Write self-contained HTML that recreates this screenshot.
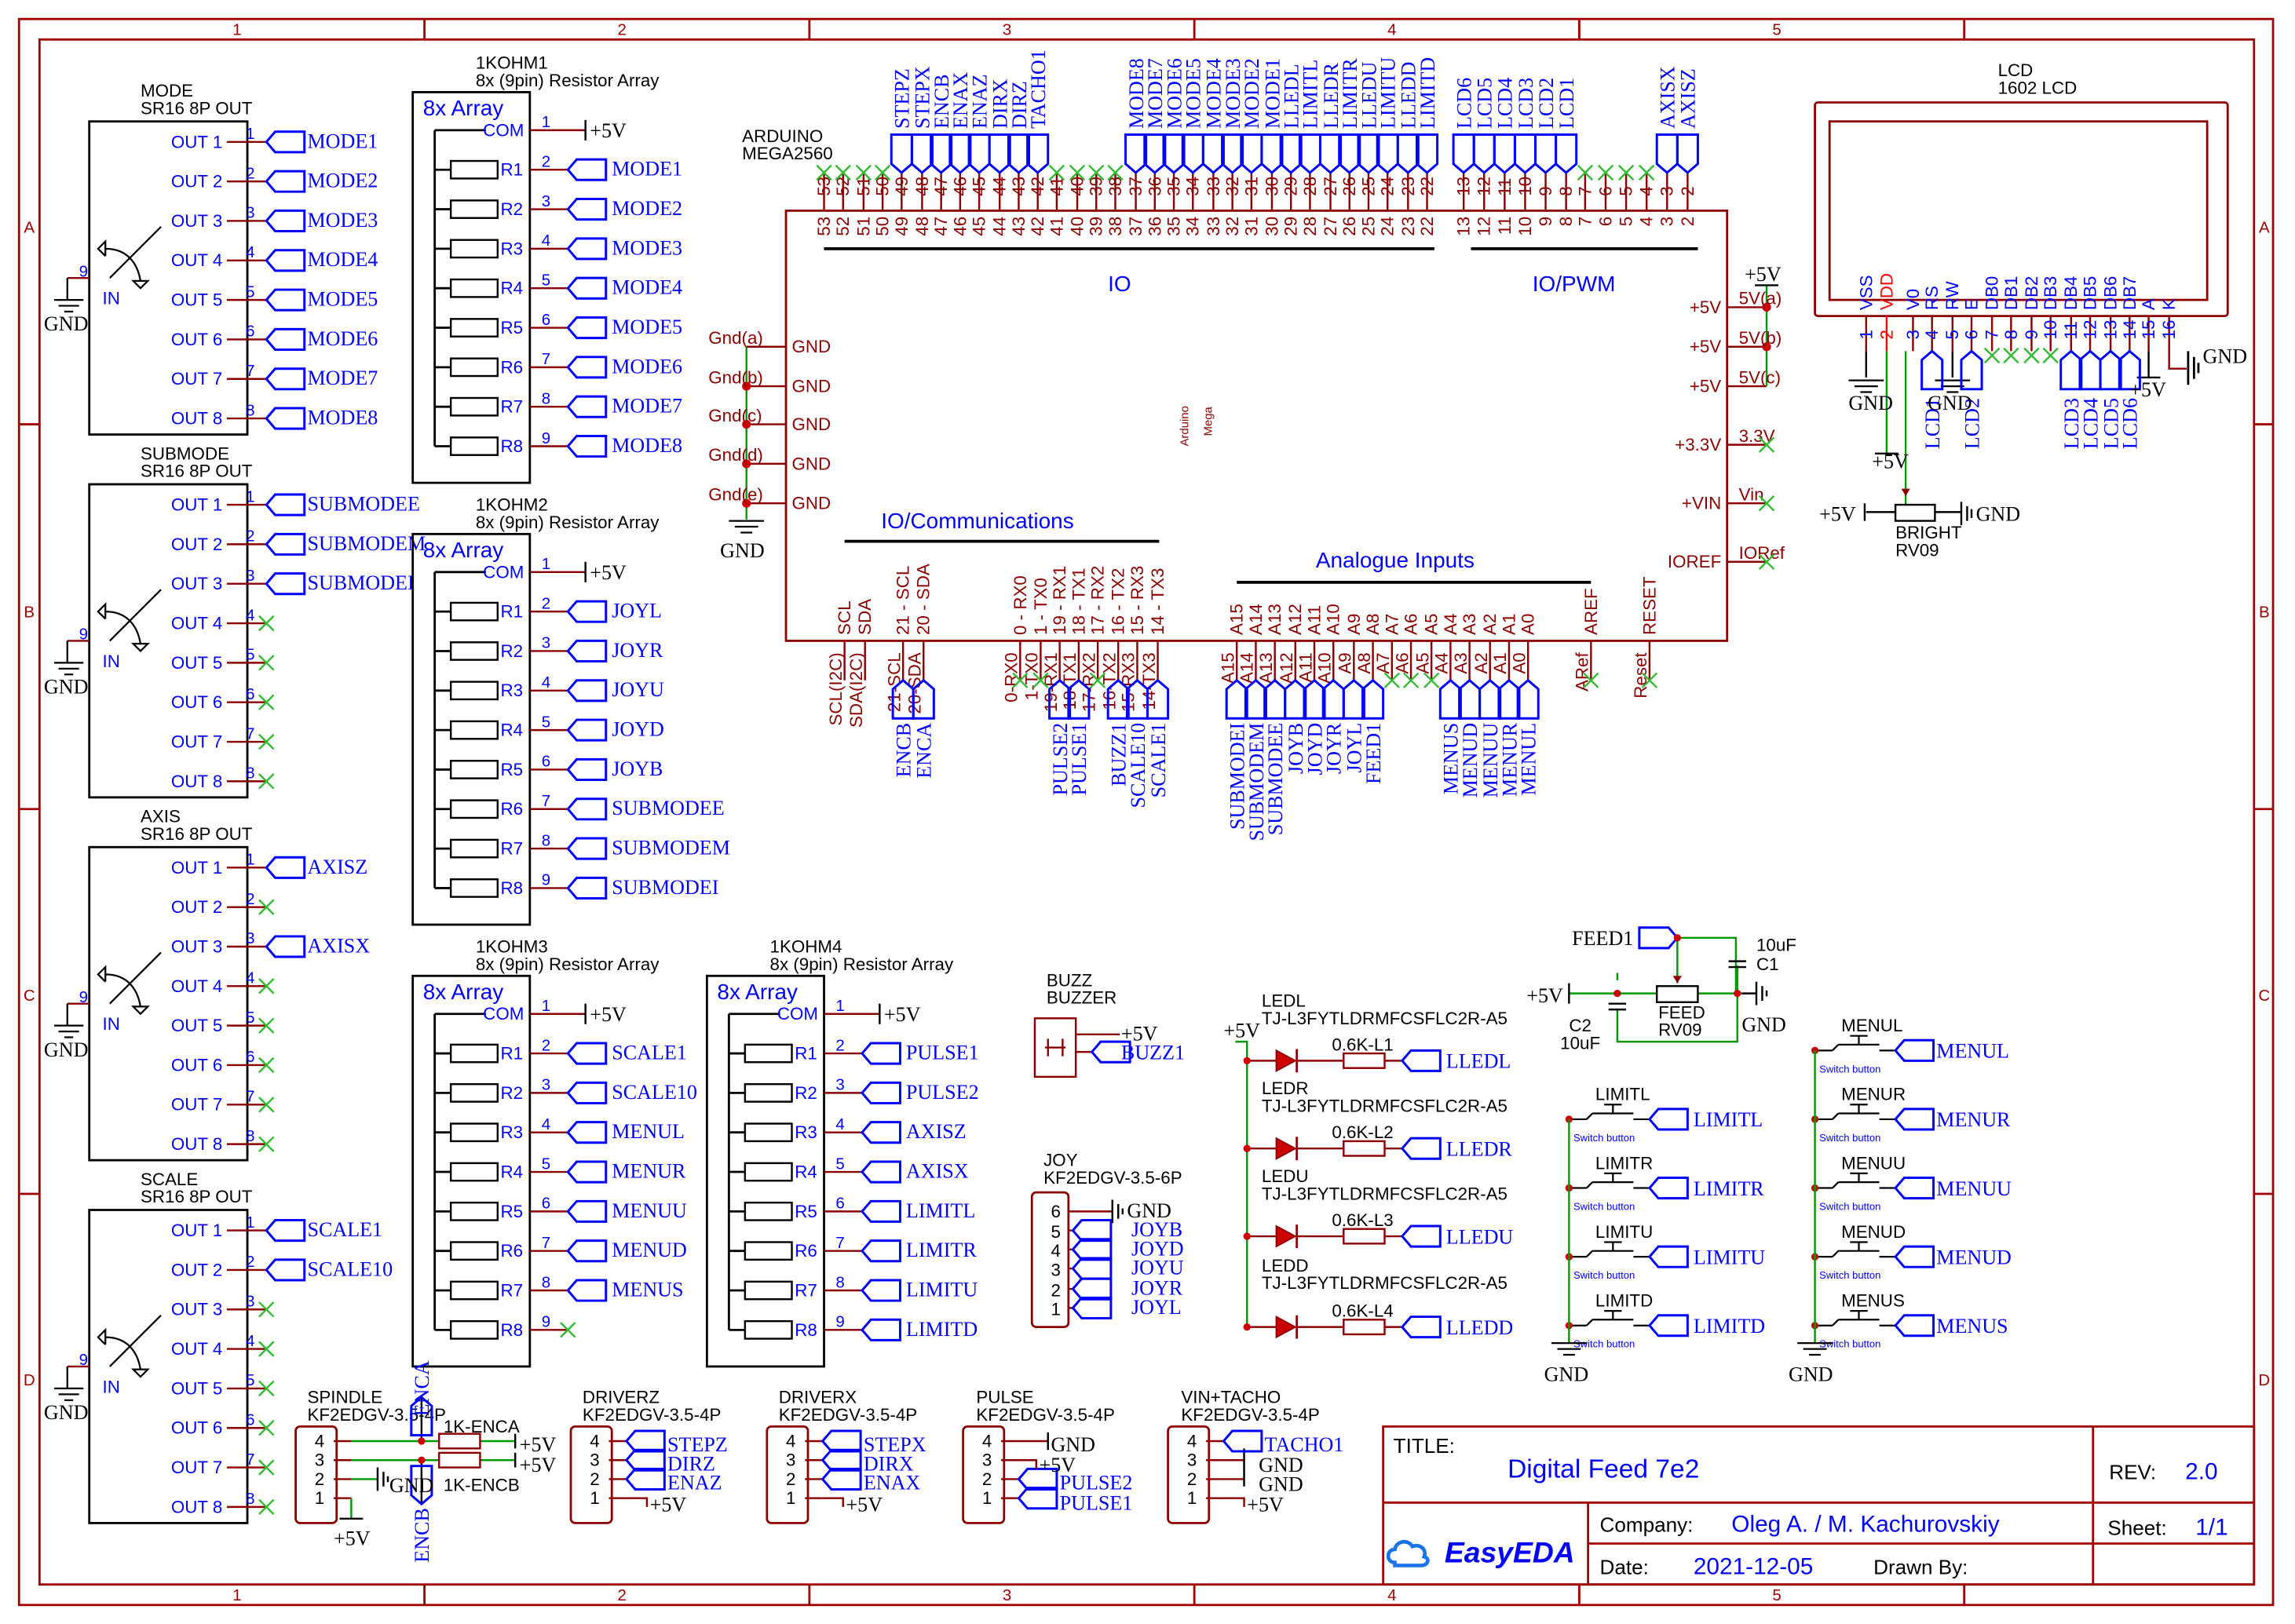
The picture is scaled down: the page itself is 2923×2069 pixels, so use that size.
<!DOCTYPE html>
<html><head><meta charset="utf-8"><style>
html,body{margin:0;padding:0;background:#fff}
svg{display:block}
.s{font-family:"Liberation Sans",sans-serif}
.r{font-family:"Liberation Serif",serif}
</style></head><body>
<svg width="2923" height="2069" viewBox="0 0 1568 1110" preserveAspectRatio="none" xmlns="http://www.w3.org/2000/svg">
<defs>
<path id="fl" d="M0,0 l6,-7 h20 v14 h-20 z" fill="none" stroke="#0000ff" stroke-width="1.6"/>
<path id="fd" d="M0,0 l-7,-6 v-20 h14 v20 z" fill="none" stroke="#0000ff" stroke-width="1.6"/>
<path id="fu" d="M0,0 l-7,6 v20 h14 v-20 z" fill="none" stroke="#0000ff" stroke-width="1.6"/>
<path id="x" d="M-5,-5 l10,10 M5,-5 l-10,10" stroke="#33bb33" stroke-width="1.3"/>
<g id="gnd" stroke="#000" stroke-width="1.2"><path d="M-12,0 h24 M-8,4 h16 M-4,8 h8"/></g>
<g id="sw" stroke="#000" stroke-width="1.2" fill="none"><path d="M75,190 l35,-35 M72,175 l-5,-5 5,-5 v10 M72,170 c15,0 22,10 24,22 M91,192 h10 l-5,5 z"/></g>
<g id="sr"><rect x="61" y="83" width="108" height="214" fill="none" stroke="#000" stroke-width="1.5"/>
<g stroke="#8b0000" stroke-width="1.3"><path d="M155,97h27M155,124h27M155,151h27M155,178h27M155,205h27M155,232h27M155,259h27M155,286h27M46,190h15"/></g>
<use href="#sw"/><path d="M46,190 v15 M37,205 h20 M40,209 h14 M44,213 h6" stroke="#000" stroke-width="1.2"/>
<g class="s" font-size="12" fill="#0000ff" text-anchor="end"><text x="152" y="101">OUT 1</text><text x="152" y="128">OUT 2</text><text x="152" y="155">OUT 3</text><text x="152" y="182">OUT 4</text><text x="152" y="209">OUT 5</text><text x="152" y="236">OUT 6</text><text x="152" y="263">OUT 7</text><text x="152" y="290">OUT 8</text></g>
<g class="s" font-size="11" fill="#0000ff"><text x="168" y="95">1</text><text x="168" y="122">2</text><text x="168" y="149">3</text><text x="168" y="176">4</text><text x="168" y="203">5</text><text x="168" y="230">6</text><text x="168" y="257">7</text><text x="168" y="284">8</text><text x="54" y="189">9</text><text x="70" y="208" font-size="12">IN</text></g>
<text x="30" y="226" class="r" font-size="14">GND</text></g>
<g id="ra"><rect x="0" y="0" width="80" height="267" fill="none" stroke="#000" stroke-width="1.5"/>
<path d="M15,26 h35 M15,26 V242 M15,53h11M15,80h11M15,107h11M15,134h11M15,161h11M15,188h11M15,215h11M15,242h11" stroke="#000" stroke-width="1.5" fill="none"/>
<g fill="none" stroke="#000" stroke-width="1.3"><rect x="26" y="47" width="32" height="12"/><rect x="26" y="74" width="32" height="12"/><rect x="26" y="101" width="32" height="12"/><rect x="26" y="128" width="32" height="12"/><rect x="26" y="155" width="32" height="12"/><rect x="26" y="182" width="32" height="12"/><rect x="26" y="209" width="32" height="12"/><rect x="26" y="236" width="32" height="12"/></g>
<path d="M80,26h38M80,53h26M80,80h26M80,107h26M80,134h26M80,161h26M80,188h26M80,215h26M80,242h26" stroke="#8b0000" stroke-width="1.3"/>
<g class="s" fill="#0000ff"><text x="7" y="16" font-size="15">8x Array</text><text x="76" y="30" font-size="12" text-anchor="end">COM</text>
<g font-size="12"><text x="60" y="57">R1</text><text x="60" y="84">R2</text><text x="60" y="111">R3</text><text x="60" y="138">R4</text><text x="60" y="165">R5</text><text x="60" y="192">R6</text><text x="60" y="219">R7</text><text x="60" y="246">R8</text></g>
<g font-size="11"><text x="88" y="24">1</text><text x="88" y="51">2</text><text x="88" y="78">3</text><text x="88" y="105">4</text><text x="88" y="132">5</text><text x="88" y="159">6</text><text x="88" y="186">7</text><text x="88" y="213">8</text><text x="88" y="240">9</text></g></g>
<path d="M118,19 v14" stroke="#000" stroke-width="1.3"/><text x="121" y="31" class="r" font-size="14">+5V</text></g>
</defs>

<!-- frame -->
<g fill="none" stroke="#a00000" stroke-width="1.5"><rect x="13" y="13" width="1540" height="1084"/><rect x="27" y="27" width="1513" height="1056"/>
<path d="M290,13v14M553,13v14M816,13v14M1079,13v14M1342,13v14M290,1083v14M553,1083v14M816,1083v14M1079,1083v14M1342,1083v14M13,290h14M13,553h14M13,816h14M1540,290h13M1540,553h13M1540,816h13"/></g>
<g class="s" font-size="11" fill="#a00000" text-anchor="middle"><text x="162" y="24">1</text><text x="425" y="24">2</text><text x="688" y="24">3</text><text x="951" y="24">4</text><text x="1214" y="24">5</text><text x="162" y="1094">1</text><text x="425" y="1094">2</text><text x="688" y="1094">3</text><text x="951" y="1094">4</text><text x="1214" y="1094">5</text>
<text x="20" y="159">A</text><text x="20" y="422">B</text><text x="20" y="684">C</text><text x="20" y="947">D</text><text x="1547" y="159">A</text><text x="1547" y="422">B</text><text x="1547" y="684">C</text><text x="1547" y="947">D</text></g>

<!-- SR16 blocks -->
<g class="s" font-size="12"><text x="96" y="66">MODE</text><text x="96" y="78">SR16 8P OUT</text>
<text x="96" y="314">SUBMODE</text><text x="96" y="326">SR16 8P OUT</text>
<text x="96" y="562">AXIS</text><text x="96" y="574">SR16 8P OUT</text>
<text x="96" y="810">SCALE</text><text x="96" y="822">SR16 8P OUT</text></g>
<use href="#sr"/><use href="#sr" y="248"/><use href="#sr" y="496"/><use href="#sr" y="744"/>
<g><use href="#fl" x="182" y="97"/><use href="#fl" x="182" y="124"/><use href="#fl" x="182" y="151"/><use href="#fl" x="182" y="178"/><use href="#fl" x="182" y="205"/><use href="#fl" x="182" y="232"/><use href="#fl" x="182" y="259"/><use href="#fl" x="182" y="286"/>
<use href="#fl" x="182" y="345"/><use href="#fl" x="182" y="372"/><use href="#fl" x="182" y="399"/>
<use href="#x" x="182" y="426"/><use href="#x" x="182" y="453"/><use href="#x" x="182" y="480"/><use href="#x" x="182" y="507"/><use href="#x" x="182" y="534"/>
<use href="#fl" x="182" y="593"/><use href="#x" x="182" y="620"/><use href="#fl" x="182" y="647"/><use href="#x" x="182" y="674"/><use href="#x" x="182" y="701"/><use href="#x" x="182" y="728"/><use href="#x" x="182" y="755"/><use href="#x" x="182" y="782"/>
<use href="#fl" x="182" y="841"/><use href="#fl" x="182" y="868"/><use href="#x" x="182" y="895"/><use href="#x" x="182" y="922"/><use href="#x" x="182" y="949"/><use href="#x" x="182" y="976"/><use href="#x" x="182" y="1003"/><use href="#x" x="182" y="1030"/></g>
<g class="r" font-size="14" fill="#0000ff"><text x="210" y="101">MODE1</text><text x="210" y="128">MODE2</text><text x="210" y="155">MODE3</text><text x="210" y="182">MODE4</text><text x="210" y="209">MODE5</text><text x="210" y="236">MODE6</text><text x="210" y="263">MODE7</text><text x="210" y="290">MODE8</text>
<text x="210" y="349">SUBMODEE</text><text x="210" y="376">SUBMODEM</text><text x="210" y="403">SUBMODEI</text>
<text x="210" y="597">AXISZ</text><text x="210" y="651">AXISX</text><text x="210" y="845">SCALE1</text><text x="210" y="872">SCALE10</text></g>

<!-- resistor arrays -->
<g class="s" font-size="12"><text x="325" y="47">1KOHM1</text><text x="325" y="59">8x (9pin) Resistor Array</text>
<text x="325" y="349">1KOHM2</text><text x="325" y="361">8x (9pin) Resistor Array</text>
<text x="325" y="651">1KOHM3</text><text x="325" y="663">8x (9pin) Resistor Array</text>
<text x="526" y="651">1KOHM4</text><text x="526" y="663">8x (9pin) Resistor Array</text></g>
<use href="#ra" x="282" y="63"/><use href="#ra" x="282" y="365"/><use href="#ra" x="282" y="667"/><use href="#ra" x="483" y="667"/>
<g><use href="#fl" x="388" y="116"/><use href="#fl" x="388" y="143"/><use href="#fl" x="388" y="170"/><use href="#fl" x="388" y="197"/><use href="#fl" x="388" y="224"/><use href="#fl" x="388" y="251"/><use href="#fl" x="388" y="278"/><use href="#fl" x="388" y="305"/>
<use href="#fl" x="388" y="418"/><use href="#fl" x="388" y="445"/><use href="#fl" x="388" y="472"/><use href="#fl" x="388" y="499"/><use href="#fl" x="388" y="526"/><use href="#fl" x="388" y="553"/><use href="#fl" x="388" y="580"/><use href="#fl" x="388" y="607"/>
<use href="#fl" x="388" y="720"/><use href="#fl" x="388" y="747"/><use href="#fl" x="388" y="774"/><use href="#fl" x="388" y="801"/><use href="#fl" x="388" y="828"/><use href="#fl" x="388" y="855"/><use href="#fl" x="388" y="882"/><use href="#x" x="388" y="909"/>
<use href="#fl" x="589" y="720"/><use href="#fl" x="589" y="747"/><use href="#fl" x="589" y="774"/><use href="#fl" x="589" y="801"/><use href="#fl" x="589" y="828"/><use href="#fl" x="589" y="855"/><use href="#fl" x="589" y="882"/><use href="#fl" x="589" y="909"/></g>
<g class="r" font-size="14" fill="#0000ff"><text x="418" y="120">MODE1</text><text x="418" y="147">MODE2</text><text x="418" y="174">MODE3</text><text x="418" y="201">MODE4</text><text x="418" y="228">MODE5</text><text x="418" y="255">MODE6</text><text x="418" y="282">MODE7</text><text x="418" y="309">MODE8</text>
<text x="418" y="422">JOYL</text><text x="418" y="449">JOYR</text><text x="418" y="476">JOYU</text><text x="418" y="503">JOYD</text><text x="418" y="530">JOYB</text><text x="418" y="557">SUBMODEE</text><text x="418" y="584">SUBMODEM</text><text x="418" y="611">SUBMODEI</text>
<text x="418" y="724">SCALE1</text><text x="418" y="751">SCALE10</text><text x="418" y="778">MENUL</text><text x="418" y="805">MENUR</text><text x="418" y="832">MENUU</text><text x="418" y="859">MENUD</text><text x="418" y="886">MENUS</text>
<text x="619" y="724">PULSE1</text><text x="619" y="751">PULSE2</text><text x="619" y="778">AXISZ</text><text x="619" y="805">AXISX</text><text x="619" y="832">LIMITL</text><text x="619" y="859">LIMITR</text><text x="619" y="886">LIMITU</text><text x="619" y="913">LIMITD</text></g>

<!-- Arduino -->
<rect x="537" y="144" width="643" height="294" fill="none" stroke="#8b0000" stroke-width="1.5"/>
<g class="s" font-size="12"><text x="507" y="97">ARDUINO</text><text x="507" y="109">MEGA2560</text></g>
<g stroke="#8b0000" stroke-width="1.3">
<path d="M563,118v26M576,118v26M590,118v26M603,118v26M616,118v26M630,118v26M643,118v26M656,118v26M669,118v26M683,118v26M696,118v26M709,118v26M722,118v26M736,118v26M749,118v26M762,118v26M776,118v26M789,118v26M802,118v26M815,118v26M829,118v26M842,118v26M855,118v26M869,118v26M882,118v26M895,118v26M909,118v26M922,118v26M935,118v26M948,118v26M962,118v26M975,118v26"/>
<path d="M1000,118v26M1014,118v26M1028,118v26M1042,118v26M1056,118v26M1070,118v26M1083,118v26M1097,118v26M1111,118v26M1125,118v26M1139,118v26M1153,118v26"/>
<path d="M577,438v27M591,438v27M617,438v27M631,438v27M697,438v27M711,438v27M724,438v27M737,438v27M750,438v27M764,438v27M777,438v27M791,438v27"/>
<path d="M845,438v27M858,438v27M871,438v27M885,438v27M898,438v27M911,438v27M925,438v27M938,438v27M951,438v27M964,438v27M978,438v27M991,438v27M1004,438v27M1018,438v27M1031,438v27M1044,438v27M1087,438v27M1127,438v27"/>
<path d="M510,237h27M510,264h27M510,290h27M510,317h27M510,344h27M1180,210h27M1180,237h27M1180,264h27M1180,304h27M1180,344h27M1180,384h27"/></g>
<path d="M510,237V355" stroke="#009900" stroke-width="1.3"/><path d="M1207,195V264" stroke="#009900" stroke-width="1.3"/><path d="M1199,195h16" stroke="#000" stroke-width="1.3"/>
<g fill="#cc0000"><circle cx="510" cy="264" r="3"/><circle cx="510" cy="290" r="3"/><circle cx="510" cy="317" r="3"/><circle cx="510" cy="344" r="3"/><circle cx="1207" cy="210" r="3"/><circle cx="1207" cy="237" r="3"/></g>
<use href="#gnd" x="510" y="356"/><text x="492" y="381" class="r" font-size="14">GND</text>
<text x="1192" y="192" class="r" font-size="14">+5V</text>
<g class="s" font-size="12" fill="#8b0000">
<g transform="translate(0,134)">
<text transform="translate(567,0) rotate(-90)">53</text><text transform="translate(580,0) rotate(-90)">52</text><text transform="translate(594,0) rotate(-90)">51</text><text transform="translate(607,0) rotate(-90)">50</text><text transform="translate(620,0) rotate(-90)">49</text><text transform="translate(634,0) rotate(-90)">48</text><text transform="translate(647,0) rotate(-90)">47</text><text transform="translate(660,0) rotate(-90)">46</text><text transform="translate(673,0) rotate(-90)">45</text><text transform="translate(687,0) rotate(-90)">44</text><text transform="translate(700,0) rotate(-90)">43</text><text transform="translate(713,0) rotate(-90)">42</text><text transform="translate(726,0) rotate(-90)">41</text><text transform="translate(740,0) rotate(-90)">40</text><text transform="translate(753,0) rotate(-90)">39</text><text transform="translate(766,0) rotate(-90)">38</text><text transform="translate(780,0) rotate(-90)">37</text><text transform="translate(793,0) rotate(-90)">36</text><text transform="translate(806,0) rotate(-90)">35</text><text transform="translate(819,0) rotate(-90)">34</text><text transform="translate(833,0) rotate(-90)">33</text><text transform="translate(846,0) rotate(-90)">32</text><text transform="translate(859,0) rotate(-90)">31</text><text transform="translate(873,0) rotate(-90)">30</text><text transform="translate(886,0) rotate(-90)">29</text><text transform="translate(899,0) rotate(-90)">28</text><text transform="translate(913,0) rotate(-90)">27</text><text transform="translate(926,0) rotate(-90)">26</text><text transform="translate(939,0) rotate(-90)">25</text><text transform="translate(952,0) rotate(-90)">24</text><text transform="translate(966,0) rotate(-90)">23</text><text transform="translate(979,0) rotate(-90)">22</text>
<text transform="translate(1004,0) rotate(-90)">13</text><text transform="translate(1018,0) rotate(-90)">12</text><text transform="translate(1032,0) rotate(-90)">11</text><text transform="translate(1046,0) rotate(-90)">10</text><text transform="translate(1060,0) rotate(-90)">9</text><text transform="translate(1074,0) rotate(-90)">8</text><text transform="translate(1087,0) rotate(-90)">7</text><text transform="translate(1101,0) rotate(-90)">6</text><text transform="translate(1115,0) rotate(-90)">5</text><text transform="translate(1129,0) rotate(-90)">4</text><text transform="translate(1143,0) rotate(-90)">3</text><text transform="translate(1157,0) rotate(-90)">2</text></g>
<g transform="translate(0,148)" text-anchor="end">
<text transform="translate(567,0) rotate(-90)">53</text><text transform="translate(580,0) rotate(-90)">52</text><text transform="translate(594,0) rotate(-90)">51</text><text transform="translate(607,0) rotate(-90)">50</text><text transform="translate(620,0) rotate(-90)">49</text><text transform="translate(634,0) rotate(-90)">48</text><text transform="translate(647,0) rotate(-90)">47</text><text transform="translate(660,0) rotate(-90)">46</text><text transform="translate(673,0) rotate(-90)">45</text><text transform="translate(687,0) rotate(-90)">44</text><text transform="translate(700,0) rotate(-90)">43</text><text transform="translate(713,0) rotate(-90)">42</text><text transform="translate(726,0) rotate(-90)">41</text><text transform="translate(740,0) rotate(-90)">40</text><text transform="translate(753,0) rotate(-90)">39</text><text transform="translate(766,0) rotate(-90)">38</text><text transform="translate(780,0) rotate(-90)">37</text><text transform="translate(793,0) rotate(-90)">36</text><text transform="translate(806,0) rotate(-90)">35</text><text transform="translate(819,0) rotate(-90)">34</text><text transform="translate(833,0) rotate(-90)">33</text><text transform="translate(846,0) rotate(-90)">32</text><text transform="translate(859,0) rotate(-90)">31</text><text transform="translate(873,0) rotate(-90)">30</text><text transform="translate(886,0) rotate(-90)">29</text><text transform="translate(899,0) rotate(-90)">28</text><text transform="translate(913,0) rotate(-90)">27</text><text transform="translate(926,0) rotate(-90)">26</text><text transform="translate(939,0) rotate(-90)">25</text><text transform="translate(952,0) rotate(-90)">24</text><text transform="translate(966,0) rotate(-90)">23</text><text transform="translate(979,0) rotate(-90)">22</text>
<text transform="translate(1004,0) rotate(-90)">13</text><text transform="translate(1018,0) rotate(-90)">12</text><text transform="translate(1032,0) rotate(-90)">11</text><text transform="translate(1046,0) rotate(-90)">10</text><text transform="translate(1060,0) rotate(-90)">9</text><text transform="translate(1074,0) rotate(-90)">8</text><text transform="translate(1087,0) rotate(-90)">7</text><text transform="translate(1101,0) rotate(-90)">6</text><text transform="translate(1115,0) rotate(-90)">5</text><text transform="translate(1129,0) rotate(-90)">4</text><text transform="translate(1143,0) rotate(-90)">3</text><text transform="translate(1157,0) rotate(-90)">2</text></g>
<g transform="translate(0,434)">
<text transform="translate(581,0) rotate(-90)">SCL</text><text transform="translate(595,0) rotate(-90)">SDA</text><text transform="translate(621,0) rotate(-90)">21 - SCL</text><text transform="translate(635,0) rotate(-90)">20 - SDA</text>
<text transform="translate(701,0) rotate(-90)">0 - RX0</text><text transform="translate(715,0) rotate(-90)">1 - TX0</text><text transform="translate(728,0) rotate(-90)">19 - RX1</text><text transform="translate(741,0) rotate(-90)">18 - TX1</text><text transform="translate(754,0) rotate(-90)">17 - RX2</text><text transform="translate(768,0) rotate(-90)">16 - TX2</text><text transform="translate(781,0) rotate(-90)">15 - RX3</text><text transform="translate(795,0) rotate(-90)">14 - TX3</text>
<text transform="translate(849,0) rotate(-90)">A15</text><text transform="translate(862,0) rotate(-90)">A14</text><text transform="translate(875,0) rotate(-90)">A13</text><text transform="translate(889,0) rotate(-90)">A12</text><text transform="translate(902,0) rotate(-90)">A11</text><text transform="translate(915,0) rotate(-90)">A10</text><text transform="translate(929,0) rotate(-90)">A9</text><text transform="translate(942,0) rotate(-90)">A8</text><text transform="translate(955,0) rotate(-90)">A7</text><text transform="translate(968,0) rotate(-90)">A6</text><text transform="translate(982,0) rotate(-90)">A5</text><text transform="translate(995,0) rotate(-90)">A4</text><text transform="translate(1008,0) rotate(-90)">A3</text><text transform="translate(1022,0) rotate(-90)">A2</text><text transform="translate(1035,0) rotate(-90)">A1</text><text transform="translate(1048,0) rotate(-90)">A0</text><text transform="translate(1091,0) rotate(-90)">AREF</text><text transform="translate(1131,0) rotate(-90)">RESET</text></g>
<g transform="translate(0,446)" text-anchor="end">
<text transform="translate(575,0) rotate(-90)">SCL(I2C)</text><text transform="translate(589,0) rotate(-90)">SDA(I2C)</text><text transform="translate(615,0) rotate(-90)">21-SCL</text><text transform="translate(629,0) rotate(-90)">20-SDA</text>
<text transform="translate(695,0) rotate(-90)">0-RX0</text><text transform="translate(709,0) rotate(-90)">1-TX0</text><text transform="translate(722,0) rotate(-90)">19-RX1</text><text transform="translate(735,0) rotate(-90)">18-TX1</text><text transform="translate(748,0) rotate(-90)">17-RX2</text><text transform="translate(762,0) rotate(-90)">16-TX2</text><text transform="translate(775,0) rotate(-90)">15-RX3</text><text transform="translate(789,0) rotate(-90)">14-TX3</text>
<text transform="translate(843,0) rotate(-90)">A15</text><text transform="translate(856,0) rotate(-90)">A14</text><text transform="translate(869,0) rotate(-90)">A13</text><text transform="translate(883,0) rotate(-90)">A12</text><text transform="translate(896,0) rotate(-90)">A11</text><text transform="translate(909,0) rotate(-90)">A10</text><text transform="translate(923,0) rotate(-90)">A9</text><text transform="translate(936,0) rotate(-90)">A8</text><text transform="translate(949,0) rotate(-90)">A7</text><text transform="translate(962,0) rotate(-90)">A6</text><text transform="translate(976,0) rotate(-90)">A5</text><text transform="translate(989,0) rotate(-90)">A4</text><text transform="translate(1002,0) rotate(-90)">A3</text><text transform="translate(1016,0) rotate(-90)">A2</text><text transform="translate(1029,0) rotate(-90)">A1</text><text transform="translate(1042,0) rotate(-90)">A0</text><text transform="translate(1085,0) rotate(-90)">ARef</text><text transform="translate(1125,0) rotate(-90)">Reset</text></g>
<g><text x="541" y="241">GND</text><text x="541" y="268">GND</text><text x="541" y="294">GND</text><text x="541" y="321">GND</text><text x="541" y="348">GND</text>
<text x="484" y="235">Gnd(a)</text><text x="484" y="262">Gnd(b)</text><text x="484" y="288">Gnd(c)</text><text x="484" y="315">Gnd(d)</text><text x="484" y="342">Gnd(e)</text></g>
<g text-anchor="end"><text x="1176" y="214">+5V</text><text x="1176" y="241">+5V</text><text x="1176" y="268">+5V</text><text x="1176" y="308">+3.3V</text><text x="1176" y="348">+VIN</text><text x="1176" y="388">IOREF</text></g>
<text x="1188" y="208">5V(a)</text><text x="1188" y="235">5V(b)</text><text x="1188" y="262">5V(c)</text><text x="1188" y="302">3.3V</text><text x="1188" y="342">Vin</text><text x="1188" y="382">IORef</text>
<text transform="translate(812,305) rotate(-90)" font-size="8">Arduino</text><text transform="translate(828,298) rotate(-90)" font-size="8">Mega</text>
</g>
<g class="s" font-size="15" fill="#0000ff"><text x="757" y="199">IO</text><text x="1047" y="199">IO/PWM</text><text x="602" y="361">IO/Communications</text><text x="899" y="388">Analogue Inputs</text></g>
<path d="M563,170H980M1005,170H1160M577,370H792M845,398H1087" stroke="#000" stroke-width="2"/>
<g><use href="#x" x="1207" y="304"/><use href="#x" x="1207" y="344"/><use href="#x" x="1207" y="384"/>
<use href="#x" x="563" y="118"/><use href="#x" x="576" y="118"/><use href="#x" x="590" y="118"/><use href="#x" x="603" y="118"/><use href="#x" x="722" y="118"/><use href="#x" x="736" y="118"/><use href="#x" x="749" y="118"/><use href="#x" x="762" y="118"/><use href="#x" x="1083" y="118"/><use href="#x" x="1097" y="118"/><use href="#x" x="1111" y="118"/><use href="#x" x="1125" y="118"/>
<use href="#x" x="697" y="465"/><use href="#x" x="711" y="465"/><use href="#x" x="750" y="465"/><use href="#x" x="951" y="465"/><use href="#x" x="964" y="465"/><use href="#x" x="978" y="465"/><use href="#x" x="1087" y="465"/><use href="#x" x="1127" y="465"/>
<use href="#fd" x="616" y="118"/><use href="#fd" x="630" y="118"/><use href="#fd" x="643" y="118"/><use href="#fd" x="656" y="118"/><use href="#fd" x="669" y="118"/><use href="#fd" x="683" y="118"/><use href="#fd" x="696" y="118"/><use href="#fd" x="709" y="118"/>
<use href="#fd" x="776" y="118"/><use href="#fd" x="789" y="118"/><use href="#fd" x="802" y="118"/><use href="#fd" x="815" y="118"/><use href="#fd" x="829" y="118"/><use href="#fd" x="842" y="118"/><use href="#fd" x="855" y="118"/><use href="#fd" x="869" y="118"/><use href="#fd" x="882" y="118"/><use href="#fd" x="895" y="118"/><use href="#fd" x="909" y="118"/><use href="#fd" x="922" y="118"/><use href="#fd" x="935" y="118"/><use href="#fd" x="948" y="118"/><use href="#fd" x="962" y="118"/><use href="#fd" x="975" y="118"/>
<use href="#fd" x="1000" y="118"/><use href="#fd" x="1014" y="118"/><use href="#fd" x="1028" y="118"/><use href="#fd" x="1042" y="118"/><use href="#fd" x="1056" y="118"/><use href="#fd" x="1070" y="118"/><use href="#fd" x="1139" y="118"/><use href="#fd" x="1153" y="118"/>
<use href="#fu" x="617" y="465"/><use href="#fu" x="631" y="465"/><use href="#fu" x="724" y="465"/><use href="#fu" x="737" y="465"/><use href="#fu" x="764" y="465"/><use href="#fu" x="777" y="465"/><use href="#fu" x="791" y="465"/>
<use href="#fu" x="845" y="465"/><use href="#fu" x="858" y="465"/><use href="#fu" x="871" y="465"/><use href="#fu" x="885" y="465"/><use href="#fu" x="898" y="465"/><use href="#fu" x="911" y="465"/><use href="#fu" x="925" y="465"/><use href="#fu" x="938" y="465"/>
<use href="#fu" x="991" y="465"/><use href="#fu" x="1004" y="465"/><use href="#fu" x="1018" y="465"/><use href="#fu" x="1031" y="465"/><use href="#fu" x="1044" y="465"/></g>
<g class="r" font-size="14" fill="#0000ff">
<g transform="translate(0,88)">
<text transform="translate(621,0) rotate(-90)">STEPZ</text><text transform="translate(635,0) rotate(-90)">STEPX</text><text transform="translate(648,0) rotate(-90)">ENCB</text><text transform="translate(661,0) rotate(-90)">ENAX</text><text transform="translate(674,0) rotate(-90)">ENAZ</text><text transform="translate(688,0) rotate(-90)">DIRX</text><text transform="translate(701,0) rotate(-90)">DIRZ</text><text transform="translate(714,0) rotate(-90)">TACHO1</text>
<text transform="translate(781,0) rotate(-90)">MODE8</text><text transform="translate(794,0) rotate(-90)">MODE7</text><text transform="translate(807,0) rotate(-90)">MODE6</text><text transform="translate(820,0) rotate(-90)">MODE5</text><text transform="translate(834,0) rotate(-90)">MODE4</text><text transform="translate(847,0) rotate(-90)">MODE3</text><text transform="translate(860,0) rotate(-90)">MODE2</text><text transform="translate(874,0) rotate(-90)">MODE1</text><text transform="translate(887,0) rotate(-90)">LLEDL</text><text transform="translate(900,0) rotate(-90)">LIMITL</text><text transform="translate(914,0) rotate(-90)">LLEDR</text><text transform="translate(927,0) rotate(-90)">LIMITR</text><text transform="translate(940,0) rotate(-90)">LLEDU</text><text transform="translate(953,0) rotate(-90)">LIMITU</text><text transform="translate(967,0) rotate(-90)">LLEDD</text><text transform="translate(980,0) rotate(-90)">LIMITD</text>
<text transform="translate(1005,0) rotate(-90)">LCD6</text><text transform="translate(1019,0) rotate(-90)">LCD5</text><text transform="translate(1033,0) rotate(-90)">LCD4</text><text transform="translate(1047,0) rotate(-90)">LCD3</text><text transform="translate(1061,0) rotate(-90)">LCD2</text><text transform="translate(1075,0) rotate(-90)">LCD1</text><text transform="translate(1144,0) rotate(-90)">AXISX</text><text transform="translate(1158,0) rotate(-90)">AXISZ</text></g>
<g transform="translate(0,494)" text-anchor="end">
<text transform="translate(622,0) rotate(-90)">ENCB</text><text transform="translate(636,0) rotate(-90)">ENCA</text><text transform="translate(729,0) rotate(-90)">PULSE2</text><text transform="translate(742,0) rotate(-90)">PULSE1</text><text transform="translate(769,0) rotate(-90)">BUZZ1</text><text transform="translate(782,0) rotate(-90)">SCALE10</text><text transform="translate(796,0) rotate(-90)">SCALE1</text>
<text transform="translate(850,0) rotate(-90)">SUBMODEI</text><text transform="translate(863,0) rotate(-90)">SUBMODEM</text><text transform="translate(876,0) rotate(-90)">SUBMODEE</text><text transform="translate(890,0) rotate(-90)">JOYB</text><text transform="translate(903,0) rotate(-90)">JOYD</text><text transform="translate(916,0) rotate(-90)">JOYR</text><text transform="translate(930,0) rotate(-90)">JOYL</text><text transform="translate(943,0) rotate(-90)">FEED1</text>
<text transform="translate(996,0) rotate(-90)">MENUS</text><text transform="translate(1009,0) rotate(-90)">MENUD</text><text transform="translate(1023,0) rotate(-90)">MENUU</text><text transform="translate(1036,0) rotate(-90)">MENUR</text><text transform="translate(1049,0) rotate(-90)">MENUL</text></g></g>

<!-- LCD -->
<g class="s" font-size="12"><text x="1365" y="52">LCD</text><text x="1365" y="64">1602 LCD</text></g>
<rect x="1240" y="70" width="282" height="146" rx="2" fill="none" stroke="#8b0000" stroke-width="1.5"/><rect x="1250" y="83" width="258" height="122" fill="none" stroke="#8b0000" stroke-width="1.5"/>
<g stroke="#8b0000" stroke-width="1.3" fill="none"><path d="M1275,216v24M1307,216v24M1320,216v24M1334,216v24M1347,216v24M1361,216v24M1374,216v24M1388,216v24M1401,216v24M1415,216v24M1428,216v24M1442,216v24M1455,216v24M1468,216v24M1482,216v24M1482,240v12h12"/></g>
<path d="M1289,216v24" stroke="#ff0000" stroke-width="1.3"/>
<path d="M1289,240v70M1302,240v105" stroke="#009900" stroke-width="1.3"/>
<path d="M1275,240v18M1334,240v18M1468,240v18M1281,310h16" stroke="#000" stroke-width="1.3"/>
<use href="#gnd" x="1275" y="260"/><use href="#gnd" x="1334" y="260"/><path d="M1460,258h16" stroke="#000" stroke-width="1.3"/>
<path d="M1495,240v23M1499,244v15M1502,248v7" stroke="#000" stroke-width="1.5"/>
<g class="s" font-size="12" fill="#0000ff"><g transform="translate(0,212)">
<text transform="translate(1279,0) rotate(-90)">VSS</text><text transform="translate(1293,0) rotate(-90)" fill="#ff0000">VDD</text><text transform="translate(1311,0) rotate(-90)">V0</text><text transform="translate(1324,0) rotate(-90)">RS</text><text transform="translate(1338,0) rotate(-90)">RW</text><text transform="translate(1351,0) rotate(-90)">E</text><text transform="translate(1365,0) rotate(-90)">DB0</text><text transform="translate(1378,0) rotate(-90)">DB1</text><text transform="translate(1392,0) rotate(-90)">DB2</text><text transform="translate(1405,0) rotate(-90)">DB3</text><text transform="translate(1419,0) rotate(-90)">DB4</text><text transform="translate(1432,0) rotate(-90)">DB5</text><text transform="translate(1446,0) rotate(-90)">DB6</text><text transform="translate(1459,0) rotate(-90)">DB7</text><text transform="translate(1472,0) rotate(-90)">A</text><text transform="translate(1486,0) rotate(-90)">K</text></g>
<g transform="translate(0,232)"><text transform="translate(1279,0) rotate(-90)">1</text><text transform="translate(1293,0) rotate(-90)" fill="#ff0000">2</text><text transform="translate(1311,0) rotate(-90)">3</text><text transform="translate(1324,0) rotate(-90)">4</text><text transform="translate(1338,0) rotate(-90)">5</text><text transform="translate(1351,0) rotate(-90)">6</text><text transform="translate(1365,0) rotate(-90)">7</text><text transform="translate(1378,0) rotate(-90)">8</text><text transform="translate(1392,0) rotate(-90)">9</text><text transform="translate(1405,0) rotate(-90)">10</text><text transform="translate(1419,0) rotate(-90)">11</text><text transform="translate(1432,0) rotate(-90)">12</text><text transform="translate(1446,0) rotate(-90)">13</text><text transform="translate(1459,0) rotate(-90)">14</text><text transform="translate(1472,0) rotate(-90)">15</text><text transform="translate(1486,0) rotate(-90)">16</text></g></g>
<g><use href="#x" x="1361" y="243"/><use href="#x" x="1374" y="243"/><use href="#x" x="1388" y="243"/><use href="#x" x="1401" y="243"/>
<use href="#fu" x="1320" y="240"/><use href="#fu" x="1347" y="240"/><use href="#fu" x="1415" y="240"/><use href="#fu" x="1428" y="240"/><use href="#fu" x="1442" y="240"/><use href="#fu" x="1455" y="240"/></g>
<g class="r" font-size="14" fill="#0000ff" text-anchor="end"><g transform="translate(0,272)"><text transform="translate(1325,0) rotate(-90)">LCD1</text><text transform="translate(1352,0) rotate(-90)">LCD2</text><text transform="translate(1420,0) rotate(-90)">LCD3</text><text transform="translate(1433,0) rotate(-90)">LCD4</text><text transform="translate(1447,0) rotate(-90)">LCD5</text><text transform="translate(1460,0) rotate(-90)">LCD6</text></g></g>
<g class="r" font-size="14"><text x="1263" y="280">GND</text><text x="1317" y="280">GND</text><text x="1505" y="248">GND</text><text x="1279" y="320">+5V</text><text x="1455" y="271">+5V</text></g>
<!-- BRIGHT pot -->
<path d="M1275,350h20M1322,350h18" stroke="#000" stroke-width="1.3"/><rect x="1295" y="345" width="27" height="11" fill="none" stroke="#000" stroke-width="1.3"/>
<path d="M1274,344v12M1340,343v16M1344,346v10M1347,348v6" stroke="#000" stroke-width="1.3"/>
<path d="M1302,339l-3,-5h6z" fill="#8b0000"/>
<g class="r" font-size="14"><text x="1243" y="356">+5V</text><text x="1350" y="356">GND</text></g>
<g class="s" font-size="12"><text x="1295" y="368">BRIGHT</text><text x="1295" y="380">RV09</text></g>

<!-- FEED pot -->
<path d="M1146,641 l-6,-7 h-20 v14 h20 z" fill="none" stroke="#0000ff" stroke-width="1.6"/>
<text x="1074" y="646" class="r" font-size="14" fill="#000">FEED1</text>
<path d="M1146,641V672M1146,641h40V680M1072,679h60M1160,679h30M1105,670v-5M1105,690v22h82V660" stroke="#009900" stroke-width="1.3" fill="none"/>
<path d="M1099,686h12M1099,690h12M1181,657h12M1181,661h12M1072,672v14M1190,679h10M1200,671v16M1204,674v10M1207,677v4" stroke="#000" stroke-width="1.3"/>
<rect x="1132" y="674" width="28" height="11" fill="none" stroke="#000" stroke-width="1.3"/>
<path d="M1146,672l-3,-5h6z" fill="#8b0000"/>
<circle cx="1146" cy="641" r="2.5" fill="#c00"/><circle cx="1187" cy="679" r="2.5" fill="#c00"/><circle cx="1105" cy="679" r="2.5" fill="#c00"/>
<g class="r" font-size="14"><text x="1043" y="685">+5V</text><text x="1190" y="705">GND</text></g>
<g class="s" font-size="12"><text x="1072" y="705">C2</text><text x="1066" y="717">10uF</text><text x="1200" y="650">10uF</text><text x="1200" y="663">C1</text><text x="1133" y="696">FEED</text><text x="1133" y="708">RV09</text></g>

<!-- BUZZER -->
<g class="s" font-size="12"><text x="715" y="674">BUZZ</text><text x="715" y="686">BUZZER</text></g>
<rect x="707" y="696" width="28" height="40" fill="none" stroke="#8b0000" stroke-width="1.3"/>
<path d="M714,716h14M716,710v12M726,710v12M735,707h30M735,719h11" stroke="#8b0000" stroke-width="1.3" fill="none"/>
<use href="#fl" x="746" y="719"/><text x="766" y="711" class="r" font-size="14">+5V</text><text x="766" y="724" class="r" font-size="14" fill="#0000ff">BUZZ1</text>

<!-- JOY -->
<g class="s" font-size="12"><text x="713" y="797">JOY</text><text x="713" y="809">KF2EDGV-3.5-6P</text></g>
<rect x="705" y="815" width="25" height="92" rx="3" fill="none" stroke="#8b0000" stroke-width="1.5"/>
<g class="s" font-size="12" fill="#000"><text x="718" y="832">6</text><text x="718" y="846">5</text><text x="718" y="859">4</text><text x="718" y="872">3</text><text x="718" y="886">2</text><text x="718" y="899">1</text></g>
<path d="M730,828h30M730,841h3M730,854h3M730,867h3M730,881h3M730,894h3" stroke="#8b0000" stroke-width="1.3"/>
<path d="M760,820v16M764,823v10M767,826v4" stroke="#000" stroke-width="1.3"/>
<g><use href="#fl" x="733" y="841"/><use href="#fl" x="733" y="854"/><use href="#fl" x="733" y="867"/><use href="#fl" x="733" y="881"/><use href="#fl" x="733" y="894"/></g>
<g class="r" font-size="14" fill="#0000ff"><text x="770" y="832" fill="#000">GND</text><text x="773" y="845">JOYB</text><text x="773" y="858">JOYD</text><text x="773" y="871">JOYU</text><text x="773" y="885">JOYR</text><text x="773" y="898">JOYL</text></g>

<!-- LEDs -->
<text x="836" y="709" class="r" font-size="14">+5V</text>
<path d="M844,712h8V908" stroke="#009900" stroke-width="1.3" fill="none"/>
<g id="led"><path d="M852,725h20M886,725h32M946,725h12" stroke="#8b0000" stroke-width="1.3"/><path d="M872,718v14l13,-7z" fill="#cc0000" stroke="#8b0000"/><path d="M886,717v16" stroke="#8b0000" stroke-width="1.5"/><rect x="918" y="720" width="28" height="10" fill="none" stroke="#8b0000" stroke-width="1.3"/><use href="#fl" x="958" y="725"/><circle cx="852" cy="725" r="2.5" fill="#c00"/></g>
<use href="#led" y="60"/><use href="#led" y="120"/><use href="#led" y="182"/>
<g class="s" font-size="12"><text x="862" y="688">LEDL</text><text x="862" y="700">TJ-L3FYTLDRMFCSFLC2R-A5</text><text x="910" y="718">0.6K-L1</text>
<text x="862" y="748">LEDR</text><text x="862" y="760">TJ-L3FYTLDRMFCSFLC2R-A5</text><text x="910" y="778">0.6K-L2</text>
<text x="862" y="808">LEDU</text><text x="862" y="820">TJ-L3FYTLDRMFCSFLC2R-A5</text><text x="910" y="838">0.6K-L3</text>
<text x="862" y="869">LEDD</text><text x="862" y="881">TJ-L3FYTLDRMFCSFLC2R-A5</text><text x="910" y="900">0.6K-L4</text></g>
<g class="r" font-size="14" fill="#0000ff"><text x="988" y="730">LLEDL</text><text x="988" y="790">LLEDR</text><text x="988" y="850">LLEDU</text><text x="988" y="912">LLEDD</text></g>

<!-- switch buttons -->
<g id="btn"><path d="M1072,765h12M1084,765l4,-4 M1088,761h28M1102,761v-6M1096,755h12M1116,765h11" stroke="#000" stroke-width="1.2" fill="none"/><circle cx="1072" cy="765" r="2.5" fill="#c00"/><use href="#fl" x="1127" y="765"/><text x="1075" y="780" class="s" font-size="7" fill="#0000ff">Switch button</text></g>
<use href="#btn" y="47"/><use href="#btn" y="94"/><use href="#btn" y="141"/>
<use href="#btn" x="168" y="-47"/><use href="#btn" x="168"/><use href="#btn" x="168" y="47"/><use href="#btn" x="168" y="94"/><use href="#btn" x="168" y="141"/>
<path d="M1072,765V918M1240,718V918" stroke="#009900" stroke-width="1.3"/>
<use href="#gnd" x="1072" y="918"/><use href="#gnd" x="1240" y="918"/>
<g class="r" font-size="14"><text x="1055" y="944">GND</text><text x="1222" y="944">GND</text></g>
<g class="s" font-size="12"><text x="1090" y="752">LIMITL</text><text x="1090" y="799">LIMITR</text><text x="1090" y="846">LIMITU</text><text x="1090" y="893">LIMITD</text>
<text x="1258" y="705">MENUL</text><text x="1258" y="752">MENUR</text><text x="1258" y="799">MENUU</text><text x="1258" y="846">MENUD</text><text x="1258" y="893">MENUS</text></g>
<g class="r" font-size="14" fill="#0000ff"><text x="1157" y="770">LIMITL</text><text x="1157" y="817">LIMITR</text><text x="1157" y="864">LIMITU</text><text x="1157" y="911">LIMITD</text>
<text x="1323" y="723">MENUL</text><text x="1323" y="770">MENUR</text><text x="1323" y="817">MENUU</text><text x="1323" y="864">MENUD</text><text x="1323" y="911">MENUS</text></g>

<!-- bottom connectors -->
<g id="con4"><rect x="202" y="975" width="28" height="66" rx="3" fill="none" stroke="#8b0000" stroke-width="1.5"/>
<path d="M228,985h12M228,998h12M228,1011h12M228,1024h12" stroke="#8b0000" stroke-width="1.3"/>
<g class="s" font-size="12"><text x="215" y="989">4</text><text x="215" y="1002">3</text><text x="215" y="1015">2</text><text x="215" y="1028">1</text></g></g>
<use href="#con4" x="188"/><use href="#con4" x="322"/><use href="#con4" x="456"/><use href="#con4" x="596"/>
<g class="s" font-size="12"><text x="210" y="959">SPINDLE</text><text x="210" y="971">KF2EDGV-3.5-4P</text><text x="398" y="959">DRIVERZ</text><text x="398" y="971">KF2EDGV-3.5-4P</text><text x="532" y="959">DRIVERX</text><text x="532" y="971">KF2EDGV-3.5-4P</text><text x="667" y="959">PULSE</text><text x="667" y="971">KF2EDGV-3.5-4P</text><text x="807" y="959">VIN+TACHO</text><text x="807" y="971">KF2EDGV-3.5-4P</text>
<text x="303" y="979">1K-ENCA</text><text x="303" y="1019">1K-ENCB</text></g>
<path d="M240,985H300M328,985h24M240,998H300M328,998h24M240,1011h18M240,1024v14" stroke="#009900" stroke-width="1.3"/>
<rect x="300" y="980" width="28" height="10" fill="none" stroke="#8b0000" stroke-width="1.3"/><rect x="300" y="993" width="28" height="10" fill="none" stroke="#8b0000" stroke-width="1.3"/>
<path d="M288,985V955M288,998V1028M352,980v10M352,993v10M258,1003v16M262,1006v10M265,1009v4M232,1038h16" stroke="#000" stroke-width="1.3"/>
<circle cx="288" cy="985" r="2.5" fill="#c00"/><circle cx="288" cy="998" r="2.5" fill="#c00"/>
<use href="#fl" x="288" y="955" transform="rotate(90 288 955)"/><use href="#fl" x="288" y="1028" transform="rotate(-90 288 1028)"/>
<g class="r" font-size="14"><text x="355" y="992">+5V</text><text x="355" y="1006">+5V</text><text x="266" y="1020">GND</text><text x="228" y="1056">+5V</text></g>
<g class="r" font-size="14" fill="#0000ff"><text transform="translate(293,968) rotate(-90)">ENCA</text><text transform="translate(293,1068) rotate(-90)">ENCB</text></g>
<g><use href="#fl" x="428" y="985"/><use href="#fl" x="428" y="998"/><use href="#fl" x="428" y="1011"/><use href="#fl" x="562" y="985"/><use href="#fl" x="562" y="998"/><use href="#fl" x="562" y="1011"/><use href="#fl" x="696" y="1011"/><use href="#fl" x="696" y="1024"/></g>
<path d="M428,1024h14v6M562,1024h14v6M696,985h20M696,998h12v6M836,998h14M836,1011h14M836,1024h14v6" stroke="#8b0000" stroke-width="1.3" fill="none"/>
<path d="M716,979v12M850,990v26" stroke="#000" stroke-width="1.3"/>
<use href="#fl" x="836" y="985"/>
<g class="r" font-size="14" fill="#0000ff"><text x="456" y="992">STEPZ</text><text x="456" y="1005">DIRZ</text><text x="456" y="1018">ENAZ</text><text x="590" y="992">STEPX</text><text x="590" y="1005">DIRX</text><text x="590" y="1018">ENAX</text><text x="724" y="1018">PULSE2</text><text x="724" y="1032">PULSE1</text><text x="864" y="992">TACHO1</text></g>
<g class="r" font-size="14"><text x="444" y="1033">+5V</text><text x="578" y="1033">+5V</text><text x="718" y="992">GND</text><text x="710" y="1006">+5V</text><text x="860" y="1006">GND</text><text x="860" y="1019">GND</text><text x="852" y="1033">+5V</text></g>

<!-- title block -->
<g fill="none" stroke="#a00000" stroke-width="1.5"><rect x="945" y="975" width="595" height="108"/><path d="M945,1027H1540M1430,975V1083M1085,1027V1083M1085,1055H1540"/></g>
<g class="s" font-size="14"><text x="952" y="993">TITLE:</text><text x="1441" y="1011">REV:</text><text x="1093" y="1047">Company:</text><text x="1440" y="1049">Sheet:</text><text x="1093" y="1076">Date:</text><text x="1280" y="1076">Drawn By:</text></g>
<g class="s" fill="#0000ff"><text x="1030" y="1010" font-size="18">Digital Feed 7e2</text><text x="1493" y="1011" font-size="16">2.0</text><text x="1183" y="1047" font-size="16">Oleg A. / M. Kachurovskiy</text><text x="1500" y="1049" font-size="16">1/1</text><text x="1157" y="1076" font-size="16">2021-12-05</text>
<text x="987" y="1068" font-size="20" font-style="italic" font-weight="bold">EasyEDA</text></g>
<path d="M953,1068c-6,0 -6,-9 0,-9c1,-6 9,-7 12,-2c5,-2 10,2 8,7c4,1 3,6 -2,6h-18z" fill="none" stroke="#1a73e8" stroke-width="2.5"/>
</svg>
</body></html>
